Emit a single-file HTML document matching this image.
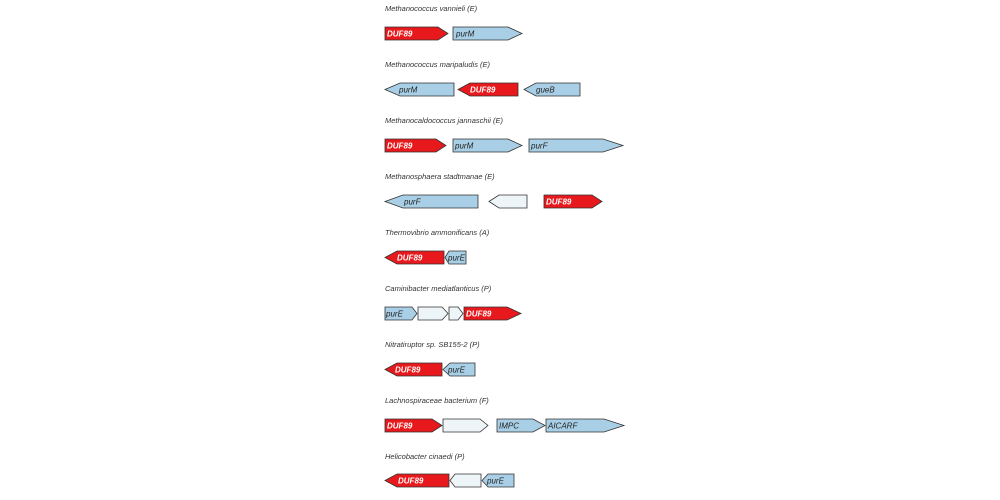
<!DOCTYPE html>
<html><head><meta charset="utf-8"><style>
html,body{margin:0;padding:0;background:#fff;}
svg{display:block}
text{font-family:"Liberation Sans",sans-serif;font-style:italic;font-size:7.5px;}
.t{fill:#333}
.r{fill:#e8191c;stroke:#333;stroke-width:0.8}
.b{fill:#a8cfe6;stroke:#333;stroke-width:0.8}
.w{fill:#eef5f8;stroke:#333;stroke-width:0.8}
.lw{fill:#fff;font-weight:bold;font-size:8px}
.lb{fill:#222;font-size:8px}
</style></head><body>
<svg width="1000" height="500" viewBox="0 0 1000 500">
<!-- row0 -->
<text class="t" x="385" y="11">Methanococcus vannieli (E)</text>
<polygon class="r" points="385,27 438,27 448,33.5 438,40 385,40"/><text class="lw" x="387" y="36.5">DUF89</text>
<polygon class="b" points="453,27 508,27 522,33.5 508,40 453,40"/><text class="lb" x="456" y="36.5">purM</text>
<!-- row1 -->
<text class="t" x="385" y="67">Methanococcus maripaludis (E)</text>
<polygon class="b" points="385,89.5 400,83 454,83 454,96 400,96"/><text class="lb" x="399" y="92.5">purM</text>
<polygon class="r" points="458,89.5 470,83 518,83 518,96 470,96"/><text class="lw" x="470" y="92.5">DUF89</text>
<polygon class="b" points="524,89.5 536,83 580,83 580,96 536,96"/><text class="lb" x="536" y="92.5">gueB</text>
<!-- row2 -->
<text class="t" x="385" y="123">Methanocaldococcus jannaschii (E)</text>
<polygon class="r" points="385,139 436,139 446,145.5 436,152 385,152"/><text class="lw" x="387" y="148.5">DUF89</text>
<polygon class="b" points="453,139 508,139 522,145.5 508,152 453,152"/><text class="lb" x="455" y="148.5">purM</text>
<polygon class="b" points="529,139 603,139 623,145.5 603,152 529,152"/><text class="lb" x="531" y="148.5">purF</text>
<!-- row3 -->
<text class="t" x="385" y="179">Methanosphaera stadtmanae (E)</text>
<polygon class="b" points="385,201.5 403,195 478,195 478,208 403,208"/><text class="lb" x="404" y="204.5">purF</text>
<polygon class="w" points="489,201.5 499,195 527,195 527,208 499,208"/>
<polygon class="r" points="544,195 592,195 602,201.5 592,208 544,208"/><text class="lw" x="546" y="204.5">DUF89</text>
<!-- row4 -->
<text class="t" x="385" y="235">Thermovibrio ammonificans (A)</text>
<polygon class="r" points="385,257.5 397,251 444,251 444,264 397,264"/><text class="lw" x="397" y="260.5">DUF89</text>
<polygon class="b" points="445,257.5 449,251 466,251 466,264 449,264"/><text class="lb" x="448" y="260.5">purE</text>
<!-- row5 -->
<text class="t" x="385" y="291">Caminibacter mediatlanticus (P)</text>
<polygon class="b" points="385,307 412,307 417,313.5 412,320 385,320"/><text class="lb" x="386" y="316.5">purE</text>
<polygon class="w" points="418,307 442,307 448,313.5 442,320 418,320"/>
<polygon class="w" points="449,307 458,307 463,313.5 458,320 449,320"/>
<polygon class="r" points="464,307 507,307 521,313.5 507,320 464,320"/><text class="lw" x="466" y="316.5">DUF89</text>
<!-- row6 -->
<text class="t" x="385" y="347">Nitratiruptor sp. SB155-2 (P)</text>
<polygon class="r" points="385,369.5 397,363 442,363 442,376 397,376"/><text class="lw" x="395" y="372.5">DUF89</text>
<polygon class="b" points="443,369.5 450,363 475,363 475,376 450,376"/><text class="lb" x="448" y="372.5">purE</text>
<!-- row7 -->
<text class="t" x="385" y="403">Lachnospiraceae bacterium (F)</text>
<polygon class="r" points="385,419 432,419 442,425.5 432,432 385,432"/><text class="lw" x="387" y="428.5">DUF89</text>
<polygon class="w" points="443,419 480,419 488,425.5 480,432 443,432"/>
<polygon class="b" points="497,419 533,419 545,425.5 533,432 497,432"/><text class="lb" x="499" y="428.5">IMPC</text>
<polygon class="b" points="546,419 604,419 624,425.5 604,432 546,432"/><text class="lb" x="548" y="428.5">AICARF</text>
<!-- row8 -->
<text class="t" x="385" y="459">Helicobacter cinaedi (P)</text>
<polygon class="r" points="385,480.5 397,474 449,474 449,487 397,487"/><text class="lw" x="398" y="483.5">DUF89</text>
<polygon class="w" points="450,480.5 455,474 481,474 481,487 455,487"/>
<polygon class="b" points="482,480.5 488,474 514,474 514,487 488,487"/><text class="lb" x="487" y="483.5">purE</text>
</svg>
</body></html>
